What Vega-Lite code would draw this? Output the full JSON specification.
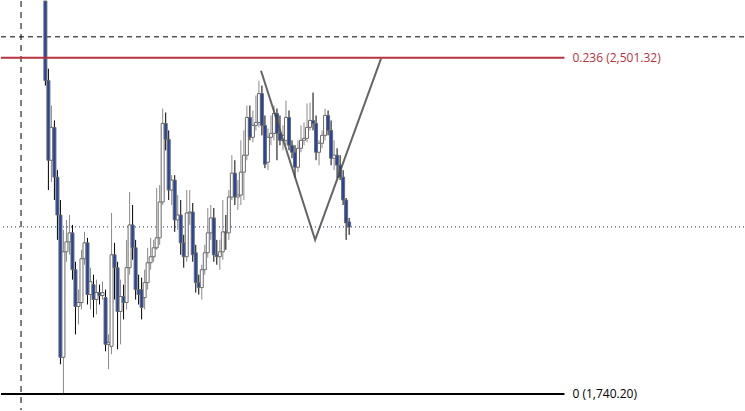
{
  "$schema": "https://vega.github.io/schema/vega-lite/v6.json",
  "width": 745,
  "height": 411,
  "autosize": {"type": "fit", "contains": "padding"},
  "padding": 0,
  "background": "white",
  "config": {"view": {"stroke": null}},
  "datasets": {
    "candles": [
      {"i":0,"o":2629.7,"h":2629.7,"l":2438.3,"c":2449.5},
      {"i":1,"o":2449.5,"h":2476.5,"l":2201.9,"c":2269.4},
      {"i":2,"o":2269.4,"h":2393.2,"l":2219.9,"c":2343.7},
      {"i":3,"o":2343.7,"h":2359.4,"l":2179.3,"c":2231.1},
      {"i":4,"o":2231.1,"h":2246.9,"l":2089.2,"c":2145.5},
      {"i":5,"o":2145.5,"h":2179.3,"l":1807.7,"c":1823.5},
      {"i":6,"o":1823.5,"h":2111.8,"l":1740.2,"c":2062.2},
      {"i":7,"o":2062.2,"h":2134.3,"l":2039.7,"c":2084.7},
      {"i":8,"o":2084.7,"h":2145.5,"l":2055.5,"c":2105.0},
      {"i":9,"o":2105.0,"h":2123.0,"l":1999.2,"c":2021.7},
      {"i":10,"o":2021.7,"h":2039.7,"l":1875.3,"c":1938.4},
      {"i":11,"o":1938.4,"h":1976.6,"l":1897.9,"c":1947.4},
      {"i":12,"o":1947.4,"h":2066.7,"l":1931.6,"c":2046.5},
      {"i":13,"o":2046.5,"h":2107.3,"l":2032.9,"c":2082.5},
      {"i":14,"o":2082.5,"h":2093.8,"l":1942.9,"c":1965.4},
      {"i":15,"o":1965.4,"h":2026.2,"l":1931.6,"c":1994.7},
      {"i":16,"o":1987.9,"h":2010.4,"l":1913.6,"c":1954.1},
      {"i":17,"o":1954.1,"h":1999.2,"l":1920.4,"c":1969.9},
      {"i":18,"o":1969.9,"h":1987.9,"l":1942.9,"c":1963.1},
      {"i":19,"o":1963.1,"h":1994.7,"l":1954.1,"c":1969.9},
      {"i":20,"o":1958.6,"h":1976.6,"l":1837.0,"c":1852.8},
      {"i":21,"o":1852.8,"h":1875.3,"l":1796.5,"c":1857.3},
      {"i":22,"o":1848.3,"h":2150.0,"l":1830.3,"c":2055.5},
      {"i":23,"o":2055.5,"h":2082.5,"l":1954.1,"c":2026.2},
      {"i":24,"o":2026.2,"h":2039.7,"l":1841.5,"c":1927.1},
      {"i":25,"o":1927.1,"h":1999.2,"l":1852.8,"c":1960.9},
      {"i":26,"o":1960.9,"h":1987.9,"l":1909.1,"c":1947.4},
      {"i":27,"o":1947.4,"h":2089.2,"l":1931.6,"c":2026.2},
      {"i":28,"o":2026.2,"h":2197.4,"l":2010.4,"c":2123.0},
      {"i":29,"o":2123.0,"h":2168.0,"l":2044.2,"c":2071.2},
      {"i":30,"o":2071.2,"h":2089.2,"l":1954.1,"c":1976.6},
      {"i":31,"o":1976.6,"h":2010.4,"l":1942.9,"c":1965.4},
      {"i":32,"o":1976.6,"h":2003.7,"l":1909.1,"c":1936.1},
      {"i":33,"o":1958.6,"h":2021.7,"l":1931.6,"c":1992.4},
      {"i":34,"o":1992.4,"h":2071.2,"l":1976.6,"c":2037.4},
      {"i":35,"o":2037.4,"h":2093.8,"l":2021.7,"c":2051.0},
      {"i":36,"o":2051.0,"h":2089.2,"l":2039.7,"c":2071.2},
      {"i":37,"o":2071.2,"h":2206.4,"l":2066.7,"c":2093.8},
      {"i":38,"o":2093.8,"h":2213.1,"l":2078.0,"c":2174.8},
      {"i":39,"o":2174.8,"h":2386.5,"l":2168.0,"c":2352.7},
      {"i":40,"o":2352.7,"h":2377.5,"l":2291.9,"c":2316.7},
      {"i":41,"o":2316.7,"h":2336.9,"l":2179.3,"c":2201.9},
      {"i":42,"o":2201.9,"h":2235.6,"l":2168.0,"c":2224.4},
      {"i":43,"o":2224.4,"h":2235.6,"l":2107.3,"c":2134.3},
      {"i":44,"o":2134.3,"h":2190.6,"l":2111.8,"c":2145.5},
      {"i":45,"o":2145.5,"h":2179.3,"l":2055.5,"c":2082.5},
      {"i":46,"o":2082.5,"h":2100.5,"l":2026.2,"c":2051.0},
      {"i":47,"o":2051.0,"h":2201.9,"l":2039.7,"c":2150.0},
      {"i":48,"o":2150.0,"h":2201.9,"l":2123.0,"c":2152.3},
      {"i":49,"o":2152.3,"h":2172.6,"l":2039.7,"c":2055.5},
      {"i":50,"o":2060.0,"h":2078.0,"l":1969.9,"c":1992.4},
      {"i":51,"o":1992.4,"h":2010.4,"l":1965.4,"c":1981.2},
      {"i":52,"o":1981.2,"h":2032.9,"l":1954.1,"c":2021.7},
      {"i":53,"o":2021.7,"h":2078.0,"l":2010.4,"c":2060.0},
      {"i":54,"o":2060.0,"h":2161.3,"l":2048.7,"c":2105.0},
      {"i":55,"o":2105.0,"h":2168.0,"l":2089.2,"c":2138.8},
      {"i":56,"o":2138.8,"h":2161.3,"l":2039.7,"c":2055.5},
      {"i":57,"o":2055.5,"h":2089.2,"l":2032.9,"c":2051.0},
      {"i":58,"o":2051.0,"h":2089.2,"l":2021.7,"c":2062.2},
      {"i":59,"o":2062.2,"h":2179.3,"l":2044.2,"c":2107.3},
      {"i":60,"o":2107.3,"h":2145.5,"l":2066.7,"c":2105.0},
      {"i":61,"o":2105.0,"h":2201.9,"l":2089.2,"c":2186.1},
      {"i":62,"o":2186.1,"h":2280.7,"l":2179.3,"c":2240.1},
      {"i":63,"o":2240.1,"h":2269.4,"l":2168.0,"c":2186.1},
      {"i":64,"o":2186.1,"h":2224.4,"l":2156.8,"c":2190.6},
      {"i":65,"o":2190.6,"h":2314.4,"l":2168.0,"c":2242.4},
      {"i":66,"o":2242.4,"h":2336.9,"l":2179.3,"c":2280.7},
      {"i":67,"o":2280.7,"h":2393.2,"l":2269.4,"c":2366.2},
      {"i":68,"o":2366.2,"h":2393.2,"l":2314.4,"c":2321.2},
      {"i":69,"o":2321.2,"h":2382.0,"l":2309.9,"c":2348.2},
      {"i":70,"o":2348.2,"h":2415.7,"l":2336.9,"c":2354.9},
      {"i":71,"o":2354.9,"h":2449.5,"l":2343.7,"c":2420.2},
      {"i":72,"o":2420.2,"h":2438.3,"l":2325.7,"c":2348.2},
      {"i":73,"o":2348.2,"h":2370.7,"l":2251.4,"c":2260.4},
      {"i":74,"o":2264.9,"h":2341.4,"l":2246.9,"c":2321.2},
      {"i":75,"o":2321.2,"h":2370.7,"l":2303.2,"c":2330.2},
      {"i":76,"o":2330.2,"h":2393.2,"l":2314.4,"c":2375.2},
      {"i":77,"o":2375.2,"h":2386.5,"l":2269.4,"c":2330.2},
      {"i":78,"o":2330.2,"h":2370.7,"l":2303.2,"c":2314.4},
      {"i":79,"o":2314.4,"h":2348.2,"l":2291.9,"c":2325.7},
      {"i":80,"o":2314.4,"h":2404.5,"l":2303.2,"c":2366.2},
      {"i":81,"o":2366.2,"h":2382.0,"l":2291.9,"c":2303.2},
      {"i":82,"o":2303.2,"h":2314.4,"l":2273.9,"c":2287.4},
      {"i":83,"o":2287.4,"h":2303.2,"l":2228.9,"c":2253.6},
      {"i":84,"o":2253.6,"h":2314.4,"l":2242.4,"c":2296.4},
      {"i":85,"o":2296.4,"h":2348.2,"l":2287.4,"c":2314.4},
      {"i":86,"o":2314.4,"h":2354.9,"l":2303.2,"c":2318.9},
      {"i":87,"o":2318.9,"h":2397.7,"l":2309.9,"c":2343.7},
      {"i":88,"o":2343.7,"h":2400.0,"l":2336.9,"c":2359.4},
      {"i":89,"o":2359.4,"h":2422.5,"l":2336.9,"c":2352.7},
      {"i":90,"o":2352.7,"h":2370.7,"l":2269.4,"c":2287.4},
      {"i":91,"o":2287.4,"h":2314.4,"l":2258.1,"c":2307.7},
      {"i":92,"o":2307.7,"h":2336.9,"l":2296.4,"c":2325.7},
      {"i":93,"o":2325.7,"h":2386.5,"l":2314.4,"c":2370.7},
      {"i":94,"o":2370.7,"h":2382.0,"l":2325.7,"c":2336.9},
      {"i":95,"o":2336.9,"h":2359.4,"l":2258.1,"c":2273.9},
      {"i":96,"o":2273.9,"h":2314.4,"l":2246.9,"c":2280.7},
      {"i":97,"o":2280.7,"h":2296.4,"l":2228.9,"c":2258.1},
      {"i":98,"o":2258.1,"h":2280.7,"l":2224.4,"c":2231.1},
      {"i":99,"o":2231.1,"h":2246.9,"l":2168.0,"c":2179.3},
      {"i":100,"o":2179.3,"h":2183.9,"l":2089.2,"c":2127.5},
      {"i":101,"o":2129.8,"h":2138.8,"l":2100.5,"c":2118.5}
    ],
    "pattern": [
      {"i":71.7,"p":2472.0},
      {"i":89.7,"p":2089.2},
      {"i":111.6,"p":2499.1}
    ],
    "fib": [
      {"i0":-14.76,"i1":172.6,"p":2501.32,"label":"0.236 (2,501.32)","col":"#b8323f","w":2},
      {"i0":-14.76,"i1":172.6,"p":1740.20,"label":"0 (1,740.20)","col":"#000000","w":2}
    ]
  },
  "encoding": {
    "x": {"field": "i", "type": "quantitative", "scale": {"domain": [-14.76, 232.3], "nice": false, "zero": false, "padding": 0}, "axis": null},
    "y": {"type": "quantitative", "scale": {"domain": [1704.2, 2629.7], "nice": false, "zero": false, "padding": 0}, "axis": null}
  },
  "layer": [
    {
      "data": {"values": [{"p": 2548.6}]},
      "mark": {"type": "rule", "color": "#000000", "strokeWidth": 1, "strokeDash": [5, 4]},
      "encoding": {"x": null, "y": {"field": "p", "type": "quantitative"}}
    },
    {
      "data": {"values": [{"i": -8.1}]},
      "mark": {"type": "rule", "color": "#000000", "strokeWidth": 1, "strokeDash": [6, 5]},
      "encoding": {"x": {"field": "i", "type": "quantitative"}, "y": null}
    },
    {
      "data": {"values": [{"p": 2118.5}]},
      "mark": {"type": "rule", "color": "#1a2a6e", "strokeWidth": 1, "strokeDash": [1, 3]},
      "encoding": {"x": null, "y": {"field": "p", "type": "quantitative"}}
    },
    {
      "data": {"name": "candles"},
      "mark": {"type": "rule", "strokeWidth": 1},
      "encoding": {
        "y": {"field": "l", "type": "quantitative"},
        "y2": {"field": "h"},
        "color": {"condition": {"test": "datum.c < datum.o", "value": "#000000"}, "value": "#8a8a8a"}
      }
    },
    {
      "data": {"name": "candles"},
      "mark": {"type": "bar", "size": 3, "stroke": "#6a6a6a", "strokeWidth": 1},
      "encoding": {
        "y": {"field": "o", "type": "quantitative"},
        "y2": {"field": "c"},
        "fill": {"condition": {"test": "datum.c < datum.o", "value": "#1f45a8"}, "value": "#ffffff"}
      }
    },
    {
      "data": {"name": "fib"},
      "mark": {"type": "rule"},
      "encoding": {
        "x": {"field": "i0", "type": "quantitative"},
        "x2": {"field": "i1"},
        "y": {"field": "p", "type": "quantitative"},
        "color": {"field": "col", "type": "nominal", "scale": null},
        "strokeWidth": {"field": "w", "type": "quantitative", "scale": null}
      }
    },
    {
      "data": {"name": "fib"},
      "mark": {"type": "text", "align": "left", "baseline": "middle", "font": "Open Sans", "fontSize": 12, "dx": 8},
      "encoding": {
        "x": {"field": "i1", "type": "quantitative"},
        "y": {"field": "p", "type": "quantitative"},
        "text": {"field": "label"},
        "color": {"field": "col", "type": "nominal", "scale": null}
      }
    },
    {
      "data": {"name": "pattern"},
      "mark": {"type": "line", "color": "#4a4a4a", "strokeWidth": 2, "opacity": 0.85},
      "encoding": {
        "x": {"field": "i", "type": "quantitative"},
        "y": {"field": "p", "type": "quantitative"}
      }
    }
  ]
}
